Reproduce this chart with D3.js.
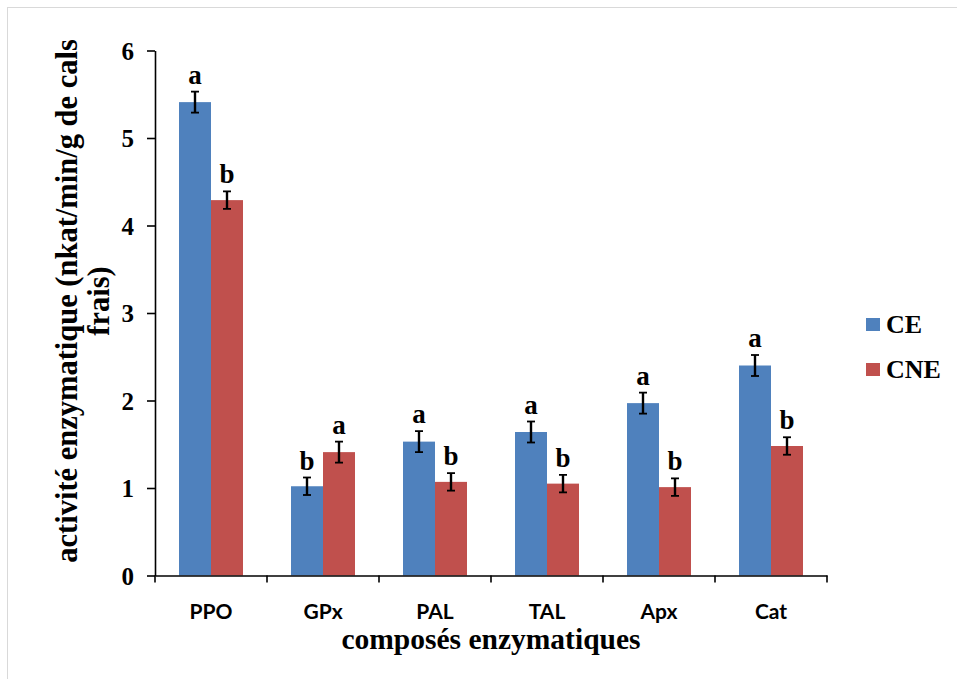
<!DOCTYPE html>
<html>
<head>
<meta charset="utf-8">
<style>body{margin:0;background:#fff}</style>
</head>
<body>
<svg width="957" height="679"></svg>
<script src="https://d3js.org/d3.v7.min.js"></script>
<script>

    // data
    var categories = ["PPO", "GPx", "PAL", "TAL", "Apx", "Cat"];
    var series = ["CE", "CNE"];
    var ceValues = [5.41, 1.02, 1.53, 1.64, 1.97, 2.40];
    var cneValues = [4.29, 1.41, 1.07, 1.05, 1.01, 1.48];
    var ceErrors = [0.12, 0.10, 0.12, 0.12, 0.12, 0.12];
    var cneErrors = [0.10, 0.12, 0.10, 0.10, 0.10, 0.10];
    var ceLetters = ["a", "b", "a", "a", "a", "a"];
    var cneLetters = ["b", "a", "b", "b", "b", "b"];
    var yTicks = [0, 1, 2, 3, 4, 5, 6];

    var colors = {CE: "#4f81bd", CNE: "#c0504d"};
    var serif = "'Liberation Serif', 'Times New Roman', serif";

    var svg = d3.select("svg");

    // light frame of the chart area
    svg.append("rect")
        .attr("x", 7.5).attr("y", 7.5)
        .attr("width", 1000).attr("height", 1000)
        .attr("fill", "none")
        .attr("stroke", "#d9d9d9");

    var y = d3.scaleLinear().domain([0, 6]).range([575.5, 50.5]);
    var x = d3.scaleBand().domain(categories).range([155, 827]);
    var x1 = d3.scaleBand().domain(series).range([0, x.bandwidth()]).paddingOuter(0.75);

    var rows = categories.map(function(c, i) {
        return {
            cat: c,
            bars: [
                {s: "CE", v: ceValues[i], e: ceErrors[i], l: ceLetters[i]},
                {s: "CNE", v: cneValues[i], e: cneErrors[i], l: cneLetters[i]}
            ]
        };
    });

    var group = svg.selectAll(".cat")
        .data(rows)
        .enter().append("g")
        .attr("transform", function(d) { return "translate(" + x(d.cat) + ",0)"; });

    var bar = group.selectAll(".bar")
        .data(function(d) { return d.bars; })
        .enter().append("g");

    bar.append("rect")
        .attr("x", function(d) { return x1(d.s); })
        .attr("y", function(d) { return y(d.v); })
        .attr("width", x1.bandwidth())
        .attr("height", function(d) { return y(0) - y(d.v); })
        .attr("fill", function(d) { return colors[d.s]; });

    // error bars
    var cx = function(d) { return x1(d.s) + x1.bandwidth() / 2; };
    bar.append("line")
        .attr("x1", cx).attr("x2", cx)
        .attr("y1", function(d) { return y(d.v + d.e); })
        .attr("y2", function(d) { return y(d.v - d.e); })
        .attr("stroke", "#000").attr("stroke-width", 2.4);
    [1, -1].forEach(function(k) {
        bar.append("line")
            .attr("x1", function(d) { return cx(d) - 4; })
            .attr("x2", function(d) { return cx(d) + 4; })
            .attr("y1", function(d) { return y(d.v + k * d.e); })
            .attr("y2", function(d) { return y(d.v + k * d.e); })
            .attr("stroke", "#000").attr("stroke-width", 1.8);
    });

    // significance letters
    bar.append("text")
        .attr("x", cx)
        .attr("y", function(d) { return y(d.v + d.e) - 8; })
        .attr("text-anchor", "middle")
        .style("font-family", serif)
        .style("font-weight", "bold")
        .style("font-size", "27px")
        .text(function(d) { return d.l; });

    // y axis
    var yAxis = svg.append("g")
        .attr("transform", "translate(155,0)")
        .call(d3.axisLeft(y).tickValues(yTicks).tickFormat(d3.format("d"))
            .tickSize(8).tickSizeOuter(0).tickPadding(13));
    yAxis.selectAll("text")
        .attr("dy", "0.34em")
        .style("font-family", serif)
        .style("font-weight", "bold")
        .style("font-size", "25px")
        .attr("fill", "#000");

    // x axis, ticks between categories
    var xAxis = svg.append("g")
        .attr("transform", "translate(0," + y(0) + ")")
        .call(d3.axisBottom(x).tickSize(0).tickSizeOuter(0));
    xAxis.selectAll("text")
        .attr("y", 43).attr("dy", 0)
        .style("font-family", "Lato, 'Open Sans', sans-serif")
        .style("font-weight", "bold")
        .style("font-size", "21px")
        .attr("fill", "#000");
    xAxis.selectAll(".sep")
        .data(categories.concat(["end"]))
        .enter().append("line")
        .attr("x1", function(d) { return d === "end" ? x.range()[1] : x(d); })
        .attr("x2", function(d) { return d === "end" ? x.range()[1] : x(d); })
        .attr("y1", 0).attr("y2", 7)
        .attr("stroke", "#000");
    svg.selectAll(".domain, .tick line").attr("stroke", "#000").attr("stroke-width", 1.6);
    xAxis.selectAll("line").attr("stroke-width", 1.6);

    // axis titles
    svg.append("text")
        .attr("x", 491).attr("y", 649)
        .attr("text-anchor", "middle")
        .style("font-family", serif)
        .style("font-weight", "bold")
        .style("font-size", "29.5px")
        .text("composés enzymatiques");

    var yTitle = svg.append("text")
        .attr("transform", "rotate(-90)")
        .attr("text-anchor", "middle")
        .style("font-family", serif)
        .style("font-weight", "bold")
        .style("font-size", "30.5px");
    yTitle.append("tspan").attr("x", -301).attr("y", 77).text("activité enzymatique (nkat/min/g de cals");
    yTitle.append("tspan").attr("x", -301).attr("y", 109).text("frais)");

    // legend
    var legend = svg.selectAll(".legend")
        .data(series)
        .enter().append("g")
        .attr("transform", function(d, i) { return "translate(866," + (318 + i * 45) + ")"; });
    legend.append("rect")
        .attr("width", 14).attr("height", 13)
        .attr("fill", function(d) { return colors[d]; });
    legend.append("text")
        .attr("x", 20).attr("y", 15)
        .style("font-family", serif)
        .style("font-weight", "bold")
        .style("font-size", "26px")
        .text(function(d) { return d; });

</script>
</body>
</html>
